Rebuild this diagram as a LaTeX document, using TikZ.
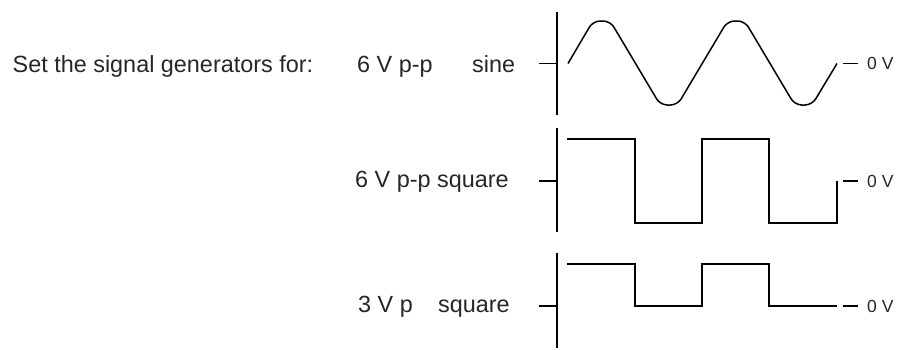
\documentclass[tikz,border=0pt]{standalone}
\usepackage{fontspec}
\setmainfont{Liberation Sans}
\begin{document}
\begin{tikzpicture}[x=1pt,y=-1pt,
  wave/.style={line width=1.5pt,line join=miter,black},
  axisline/.style={line width=1.6pt,black},
  lbl/.style={anchor=base west,inner sep=0pt,font=\fontsize{23.4}{28}\selectfont,text=black!85},
  zerolbl/.style={anchor=base west,inner sep=0pt,font=\fontsize{17.5}{20}\selectfont,text=black!85}]
\useasboundingbox (0,0) rectangle (900,349);
% labels
\node[lbl] (title) at (12.5,72) {Set the signal generators for:};
\node[lbl] (l1a) at (357,72) {6 V p-p};
\node[lbl] (l1b) at (472,72) {sine};
\node[lbl] (l2) at (355,187) {6 V p-p square};
\node[lbl] (l3a) at (358,312) {3 V p};
\node[lbl] (l3b) at (438,312) {square};
% axes
\coordinate (a1t) at (557,12);  \coordinate (a1b) at (557,115);
\coordinate (a2t) at (557,128); \coordinate (a2b) at (557,232);
\coordinate (a3t) at (557,253); \coordinate (a3b) at (557,348);
\draw[axisline] (a1t) -- (a1b);
\draw[axisline] (a2t) -- (a2b);
\draw[axisline] (a3t) -- (a3b);
% ticks
\coordinate (t1) at (539,63.5);  \coordinate (z1) at (557,63.5);
\coordinate (t2) at (539,181);   \coordinate (z2) at (557,181);
\coordinate (t3) at (539,306);   \coordinate (z3) at (557,306);
\draw[axisline] (t1) -- (z1);
\draw[axisline] (t2) -- (z2);
\draw[axisline] (t3) -- (z3);
% sine (rounded trapezoid shape as in the reference)
\draw[wave,rounded corners=7pt] (568,63.5) -- (593,21) -- (610.25,21) -- (660.25,105)
  -- (677.5,105) -- (727.5,21) -- (744.75,21) -- (794.75,105) -- (812,105) -- (837,63.5);
% square 1
\draw[wave] (567,139) -- (635,139) -- (635,223) -- (702,223) -- (702,139)
  -- (769,139) -- (769,223) -- (837,223) -- (837,181);
% square 2
\draw[wave] (567,264) -- (635,264) -- (635,306) -- (702,306) -- (702,264)
  -- (769,264) -- (769,306) -- (837,306);
% zero markers
\coordinate (d1a) at (843,63.5); \coordinate (d1b) at (858,63.5);
\coordinate (d2a) at (843,181);  \coordinate (d2b) at (858,181);
\coordinate (d3a) at (843,306);  \coordinate (d3b) at (858,306);
\draw[wave] (d1a) -- (d1b);
\draw[wave] (d2a) -- (d2b);
\draw[wave] (d3a) -- (d3b);
\node[zerolbl] (zl1) at (867,69.5) {0 V};
\node[zerolbl] (zl2) at (867,187) {0 V};
\node[zerolbl] (zl3) at (867,312) {0 V};
\end{tikzpicture}
\end{document}
